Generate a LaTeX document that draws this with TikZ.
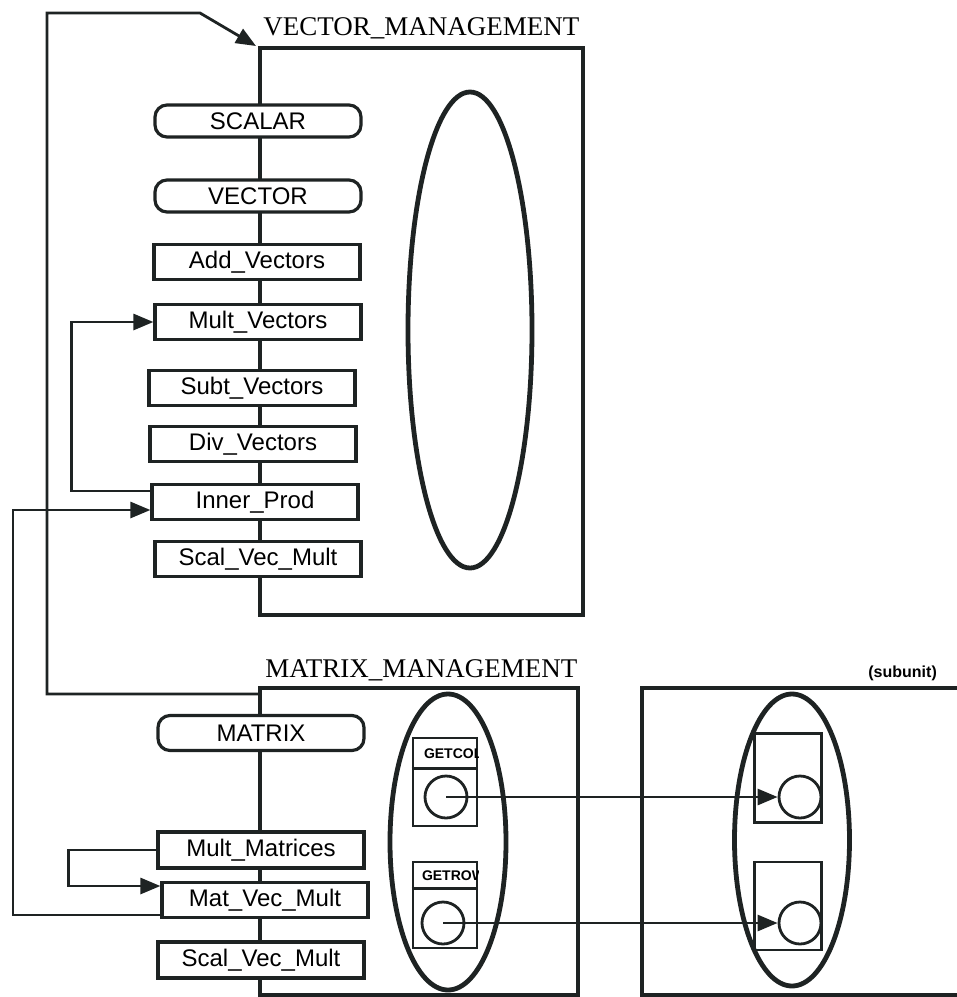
\documentclass[tikz,border=0pt]{standalone}
\usepackage{fontspec}
\setmainfont{Liberation Serif}
\setsansfont{Liberation Sans}
\usetikzlibrary{arrows.meta,positioning,shapes.geometric,calc}
\definecolor{Ink}{HTML}{1E2323}

\begin{document}
\begin{tikzpicture}[
  x=0.5pt,y=-0.5pt,
  unit/.style={draw=Ink,line width=2.4pt},
  proc/.style={draw=Ink,fill=white,line width=1.6pt,minimum width=103pt,minimum height=17.5pt,inner sep=0pt,font=\sffamily\fontsize{12}{14}\selectfont},
  typ/.style={proc,rounded corners=6pt,minimum height=16pt},
  pool/.style={draw=Ink,line width=2.4pt,ellipse,inner sep=0pt},
  getbox/.style={draw=Ink,line width=1.4pt,fill=white,inner sep=0pt,minimum width=32pt,minimum height=44pt},
  port/.style={draw=Ink,line width=1.4pt,circle,inner sep=0pt,minimum size=21pt},
  arrow/.style={-{Triangle[length=10pt,width=8pt]},draw=Ink,line width=1.4pt},
  title/.style={anchor=base west,inner sep=0pt,font=\fontsize{13.5}{15}\selectfont}
]
\clip (0,0) rectangle (957,997);
% units
\draw[unit] (260,48) rectangle (583,615);
\draw[unit] (260,688) rectangle (578,995);
\draw[unit] (642,688) rectangle (1000,995);
\coordinate (vcorner) at (256,46);
\coordinate (mcorner) at (260,694);
\node[title] (vtitle) at (263,35) {VECTOR\_MANAGEMENT};
\node[title] (mtitle) at (265,677) {MATRIX\_MANAGEMENT};
\node[anchor=base west,inner sep=0pt,font=\sffamily\bfseries\fontsize{8}{9}\selectfont] (sub) at (868,677) {(subunit)};

% VECTOR_MANAGEMENT
\node[typ] (scalar) at (258,121) {SCALAR};
\node[typ] (vector) at (258,196) {VECTOR};
\node[proc] (addv) at (257,262) {Add\_Vectors};
\node[proc] (multv) at (258,322) {Mult\_Vectors};
\node[proc] (subv) at (252,388) {Subt\_Vectors};
\node[proc] (divv) at (253,444) {Div\_Vectors};
\node[proc] (inner) at (255,502) {Inner\_Prod};
\node[proc] (svm) at (258,559) {Scal\_Vec\_Mult};
\node[pool,minimum width=62pt,minimum height=238pt] (vecpool) at (470,330) {};

% MATRIX_MANAGEMENT
\node[typ,minimum height=17.5pt] (matrix) at (261,733) {MATRIX};
\node[proc,minimum height=18pt] (multm) at (261,850) {Mult\_Matrices};
\node[proc] (matvec) at (265,900) {Mat\_Vec\_Mult};
\node[proc,minimum height=18pt] (svmm) at (261,960) {Scal\_Vec\_Mult};

\node[getbox] (getcol) at (445,782) {};
\node[getbox,minimum height=43pt] (getrow) at (445,905) {};
\draw[draw=Ink,line width=1.4pt] ($(getcol.north west)+(0,32)$) -- ($(getcol.north east)+(0,32)$);
\draw[draw=Ink,line width=1.4pt] ($(getrow.north west)+(0,28)$) -- ($(getrow.north east)+(0,28)$);
\begin{scope}
  \clip (getcol.north west) rectangle ($(getcol.north east)+(0,32)$);
  \node[anchor=west,inner sep=0pt,font=\sffamily\bfseries\fontsize{7}{8}\selectfont] at ($(getcol.north west)+(12,17)$) {GETCOL};
\end{scope}
\begin{scope}
  \clip (getrow.north west) rectangle ($(getrow.north east)+(0,28)$);
  \node[anchor=west,inner sep=0pt,font=\sffamily\bfseries\fontsize{7}{8}\selectfont] at ($(getrow.north west)+(10,15)$) {GETROW};
\end{scope}
\node[port] (colout) at (446,797) {};
\node[port] (rowout) at (443,923) {};
\node[pool,minimum width=58pt,minimum height=148pt] (matpool) at (448,842) {};

% subunit
\node[getbox,minimum width=33.5pt,minimum height=44.5pt] (colsub) at (788,778) {};
\node[getbox,minimum width=33.5pt] (rowsub) at (788,906) {};
\node[port] (colin) at (800,797) {};
\node[port] (rowin) at (800,923) {};
\node[pool,minimum width=57.5pt,minimum height=146pt] (subpool) at (792,840) {};

% connectors
\draw[arrow] (mcorner) -- (47,694) |- (200,13) -- (vcorner);
\draw[arrow] ($(inner.west)+(0,-11)$) -- ++(-79,0) |- (multv.west);
\draw[arrow] ($(matvec.west)+(0,15)$) -- (13,915) |- ($(inner.west)+(0,8)$);
\draw[arrow] (multm.west) -- ++(-88,0) |- ($(matvec.west)+(0,-14)$);
\draw[arrow] (colout.center) -- (colin.west);
\draw[arrow] (rowout.center) -- (rowin.west);
\end{tikzpicture}
\end{document}
